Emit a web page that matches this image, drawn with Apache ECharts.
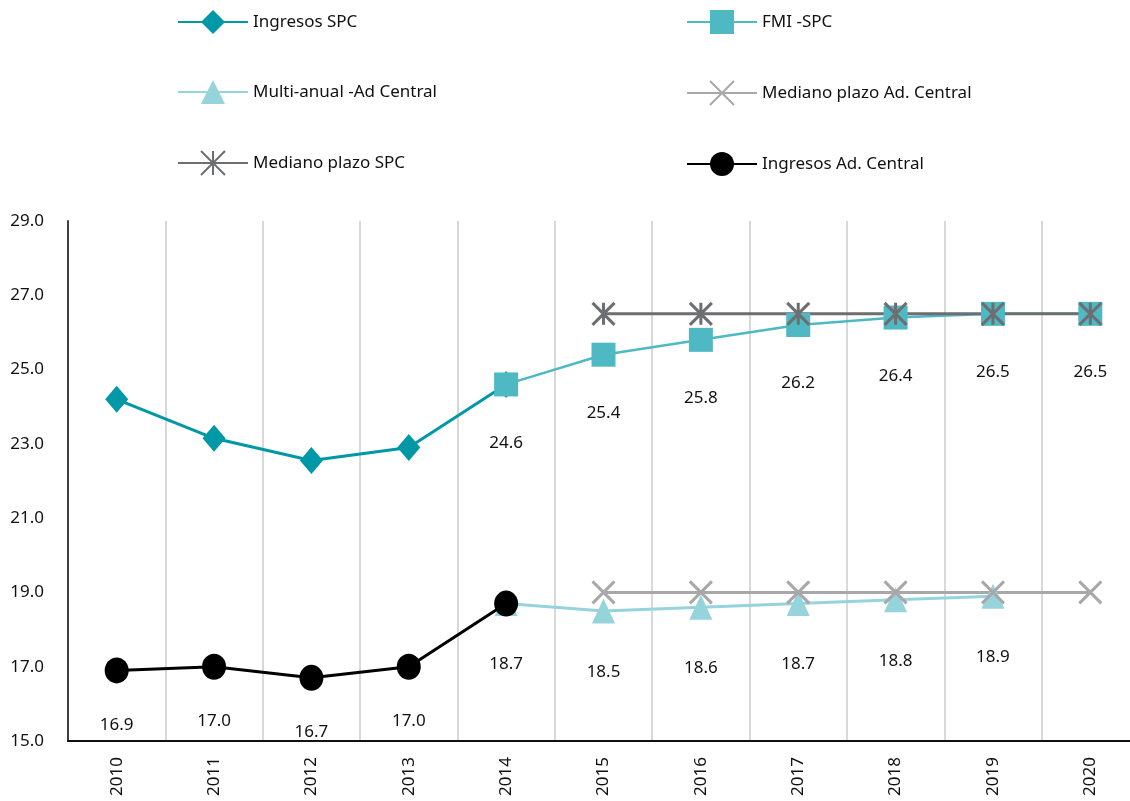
<!DOCTYPE html>
<html>
<head>
<meta charset="utf-8">
<script src="https://cdn.jsdelivr.net/npm/echarts@6/dist/echarts.min.js"></script>
<style>
html,body{margin:0;padding:0;background:#fff;}
#chart{width:1130px;height:801px;}
</style>
</head>
<body>
<div id="chart"></div>
<script>
var years = ['2010','2011','2012','2013','2014','2015','2016','2017','2018','2019','2020'];
var ingresosSPC = [24.2, 23.15, 22.55, 22.9, 24.6, null, null, null, null, null, null];
var fmiSPC = [null, null, null, null, 24.6, 25.4, 25.8, 26.2, 26.4, 26.5, 26.5];
var multiAnualAC = [null, null, null, null, 18.7, 18.5, 18.6, 18.7, 18.8, 18.9, null];
var medianoAC = [null, null, null, null, null, 19.0, 19.0, 19.0, 19.0, 19.0, 19.0];
var medianoSPC = [null, null, null, null, null, 26.5, 26.5, 26.5, 26.5, 26.5, 26.5];
var ingresosAC = [16.9, 17.0, 16.7, 17.0, 18.7, null, null, null, null, null, null];

var FONT = '"Noto Sans", sans-serif';
var X_PATH = 'path://M0,0L10,10M10,0L0,10';
var STAR_PATH = 'path://M0,0L10,10M10,0L0,10M5,0L5,10';

var chart = echarts.init(document.getElementById('chart'));

function lbl(dist) {
    return {
        show: true, position: 'bottom', distance: dist,
        color: '#111', fontSize: 17, fontFamily: FONT,
        formatter: function(p) { return p.value == null ? '' : Number(p.value).toFixed(1); }
    };
}

var legendCommon = {
    orient: 'vertical',
    itemWidth: 70, itemHeight: 30, itemGap: 46,
    textStyle: { fontSize: 17, color: '#111', fontFamily: FONT }
};

var option = {
    animation: false,
    legend: [
        Object.assign({ left: 172, top: 5, data: ['Ingresos SPC', 'Multi-anual -Ad Central', 'Mediano plazo SPC'] }, legendCommon),
        Object.assign({ left: 681, top: 5, data: ['FMI -SPC', 'Mediano plazo Ad. Central', 'Ingresos Ad. Central'] }, legendCommon)
    ],
    grid: { left: 68, width: 1071, top: 221, bottom: 60, outerBoundsMode: 'none' },
    xAxis: {
        type: 'category',
        data: years,
        boundaryGap: true,
        axisLine: { lineStyle: { color: '#111', width: 2 } },
        axisTick: { show: false },
        splitLine: { show: true, lineStyle: { color: '#d9d9d9', width: 2 } },
        axisLabel: { rotate: 90, margin: 16, fontSize: 17, color: '#111', fontFamily: FONT, interval: 0 }
    },
    yAxis: {
        type: 'value',
        min: 15, max: 29, interval: 2,
        axisLine: { show: true, lineStyle: { color: '#404040', width: 2 } },
        axisTick: { show: false },
        splitLine: { show: false },
        axisLabel: { fontSize: 17, color: '#111', fontFamily: FONT, margin: 24,
            formatter: function(v) { return v.toFixed(1); } }
    },
    series: [
        {
            name: 'Ingresos SPC', type: 'line', data: ingresosSPC,
            symbol: 'diamond', symbolSize: [23, 27],
            lineStyle: { color: '#0097a7', width: 3 },
            itemStyle: { color: '#0097a7' }
        },
        {
            name: 'FMI -SPC', type: 'line', data: fmiSPC,
            symbol: 'rect', symbolSize: 24,
            lineStyle: { color: '#4fb9c3', width: 2.5 },
            itemStyle: { color: '#4fb9c3' },
            label: lbl(38)
        },
        {
            name: 'Multi-anual -Ad Central', type: 'line', data: multiAnualAC,
            symbol: 'triangle', symbolSize: [23, 25],
            lineStyle: { color: '#95d4db', width: 3 },
            itemStyle: { color: '#95d4db' },
            label: lbl(40)
        },
        {
            name: 'Mediano plazo Ad. Central', type: 'line', data: medianoAC,
            symbol: X_PATH, symbolSize: [22, 22],
            lineStyle: { color: '#a8a8aa', width: 3 },
            itemStyle: { color: 'rgba(0,0,0,0)', borderColor: '#a8a8aa', borderWidth: 3 }
        },
        {
            name: 'Mediano plazo SPC', type: 'line', data: medianoSPC,
            symbol: STAR_PATH, symbolSize: [22, 22],
            lineStyle: { color: '#6d6e71', width: 3 },
            itemStyle: { color: 'rgba(0,0,0,0)', borderColor: '#6d6e71', borderWidth: 3 }
        },
        {
            name: 'Ingresos Ad. Central', type: 'line',
            data: ingresosAC.map(function(v, i) {
                return i === 4 ? { value: v, label: { show: false } } : v;
            }),
            symbol: 'circle', symbolSize: [24, 26],
            lineStyle: { color: '#000', width: 3 },
            itemStyle: { color: '#000' },
            label: lbl(33)
        }
    ]
};
chart.setOption(option);
</script>
</body>
</html>
